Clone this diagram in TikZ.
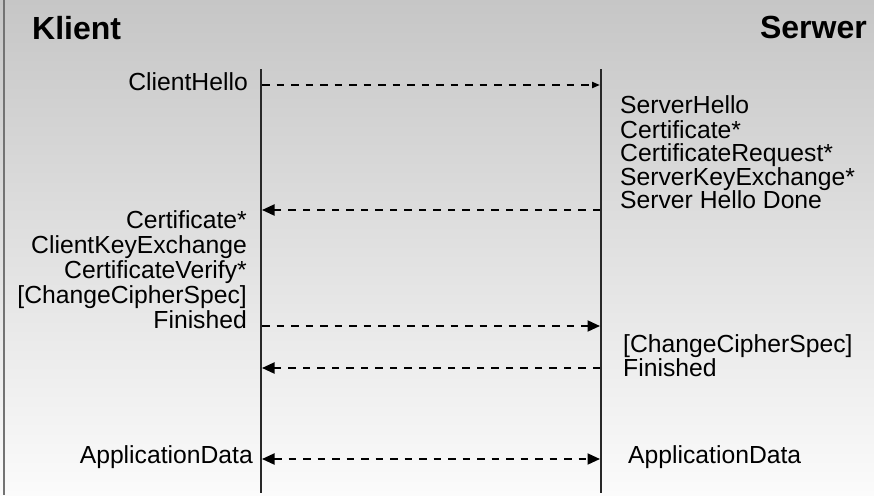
\documentclass[tikz,border=0pt]{standalone}
\usepackage{fontspec}
\setmainfont{Liberation Sans}
\usetikzlibrary{arrows.meta}
\definecolor{bgtop}{RGB}{198,198,198}
\definecolor{bgbot}{RGB}{251,251,251}
\definecolor{lifecol}{RGB}{40,40,40}
\definecolor{framecol}{RGB}{115,115,115}
\tikzset{
  bigtip/.tip={Triangle[length=12.5pt,width=11pt]},
  smalltip/.tip={Triangle[length=8pt,width=6pt]},
}

\begin{document}
\begin{tikzpicture}[x=1pt,y=-1pt,
  msg/.style={font=\fontsize{24.7}{24}\selectfont, inner sep=0pt, text=black},
  party/.style={font=\fontsize{32}{32}\selectfont\bfseries, inner sep=0pt, text=black},
  lifeline/.style={line width=1.5pt, draw=lifecol},
  signal/.style={line width=2pt, dash pattern=on 7.5pt off 7pt, draw=black},
]
\useasboundingbox (0,0) rectangle (874,495);
% background
\fill[top color=bgtop, bottom color=bgbot] (0,0) rectangle (874,495);
% left frame edge
\coordinate (ftop) at (4,0);
\coordinate (fbot) at (4,495);
\draw[draw=framecol, line width=1.5pt] (ftop) -- (fbot);

% participants
\node[party, anchor=base west] (klient) at (32,40) {Klient};
\node[party, anchor=base east] (serwer) at (867,39) {Serwer};

% lifelines
\coordinate (ctop) at (261,69);
\coordinate (cbot) at (261,493);
\coordinate (stop) at (601,69);
\coordinate (sbot) at (601,493);
\draw[lifeline] (ctop) -- (cbot);
\draw[lifeline] (stop) -- (sbot);

% anchor points of the messages on both lifelines
\coordinate (c1) at (262,85);  \coordinate (s1) at (600,85);
\coordinate (c2) at (262,210); \coordinate (s2) at (600,210);
\coordinate (c3) at (262,326); \coordinate (s3) at (600,326);
\coordinate (c4) at (262,368); \coordinate (s4) at (600,368);
\coordinate (c5) at (262,459); \coordinate (s5) at (600,459);

% messages
\draw[signal, -smalltip] (c1) -- (s1);
\draw[signal, -bigtip] (s2) -- (c2);
\draw[signal, -bigtip] (c3) -- (s3);
\draw[signal, -bigtip] (s4) -- (c4);
\draw[signal, bigtip-bigtip] (c5) -- (s5);

% client side labels
\node[msg, anchor=base east] (chello) at (248,90) {ClientHello};
\node[msg, anchor=base east] (ccert) at (247,228) {Certificate*};
\node[msg, anchor=base east] (ckex) at (247,253) {ClientKeyExchange};
\node[msg, anchor=base east] (cverify) at (247,278) {CertificateVerify*};
\node[msg, anchor=base east] (cccs) at (247,303) {[ChangeCipherSpec]};
\node[msg, anchor=base east] (cfin) at (247,328) {Finished};
\node[msg, anchor=base east] (cdata) at (253,463) {ApplicationData};

% server side labels
\node[msg, anchor=base west] (shello) at (620,113) {ServerHello};
\node[msg, anchor=base west] (scert) at (620,138) {Certificate*};
\node[msg, anchor=base west] (sreq) at (620,161) {CertificateRequest*};
\node[msg, anchor=base west] (skex) at (620,185) {ServerKeyExchange*};
\node[msg, anchor=base west] (sdone) at (620,208) {Server Hello Done};
\node[msg, anchor=base west] (sccs) at (623,352) {[ChangeCipherSpec]};
\node[msg, anchor=base west] (sfin) at (623,376) {Finished};
\node[msg, anchor=base west] (sdata) at (628,463) {ApplicationData};
\end{tikzpicture}
\end{document}
